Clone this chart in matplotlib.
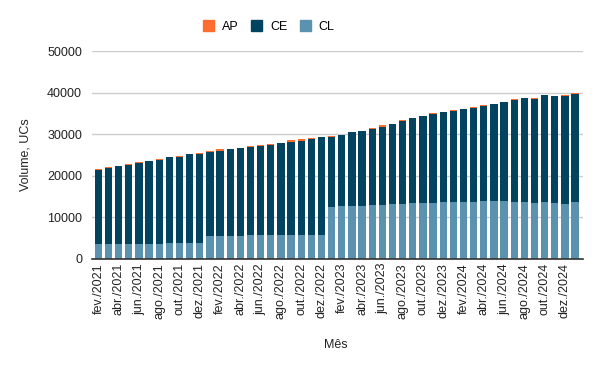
import numpy as np
import matplotlib
matplotlib.use("Agg")
import matplotlib.pyplot as plt
import matplotlib.patches as mpatches

plt.rcParams['font.family'] = ['Liberation Sans', 'DejaVu Sans']
plt.rcParams['font.size'] = 9

month_abbr = ['jan.', 'fev.', 'mar.', 'abr.', 'mai.', 'jun.',
              'jul.', 'ago.', 'set.', 'out.', 'nov.', 'dez.']
years = [2021, 2022, 2023, 2024, 2025]
months = [f"{m}/{y}" for y in years for m in month_abbr][1:49]  # fev./2021 .. jan./2025

cl = [3600, 3600, 3600, 3600, 3600, 3600, 3600, 3900, 3900, 3900,
      3900, 5500, 5500, 5500, 5500, 5750, 5750, 5750, 5750, 5750,
      5750, 5750, 5750, 12550, 12800, 12800, 12800, 13050, 13050, 13300,
      13300, 13500, 13500, 13500, 13700, 13700, 13700, 13700, 13950, 13950,
      13950, 13700, 13700, 13450, 13700, 13450, 13200, 13700]

ce = [17800, 18300, 18800, 19000, 19500, 20000, 20200, 20500, 20700, 21200,
      21350, 20230, 20550, 21030, 21270, 21190, 21430, 21670, 22230, 22470,
      22710, 23120, 23670, 16800, 17100, 17590, 18070, 18230, 18780, 19250,
      19900, 20450, 20910, 21390, 21670, 21910, 22400, 22640, 22870, 23350,
      23830, 24560, 25050, 25050, 25770, 25780, 25950, 26010]

ap = [250, 250, 0, 250, 300, 0, 250, 0, 250, 0,
      250, 250, 250, 0, 0, 250, 250, 250, 0, 250,
      250, 250, 0, 300, 0, 0, 0, 250, 250, 0,
      250, 0, 0, 250, 0, 250, 0, 250, 250, 0,
      0, 250, 0, 250, 0, 0, 300, 300]

c_ap = '#ff6d2e'
c_ce = '#02445f'
c_cl = '#5a92af'

fig = plt.figure(figsize=(6.0, 3.71), dpi=100)
ax = fig.add_axes([0.153, 0.3025, 0.819, 0.56])

x = np.arange(len(months))
cl_arr = np.array(cl)
ce_arr = np.array(ce)
ap_arr = np.array(ap)

ax.bar(x, cl_arr, width=0.72, color=c_cl, zorder=3)
ax.bar(x, ce_arr, width=0.72, bottom=cl_arr, color=c_ce, zorder=3)
ax.bar(x, ap_arr, width=0.72, bottom=cl_arr + ce_arr, color=c_ap, zorder=3)

ax.set_xlim(-0.65, 47.8)
ax.set_ylim(0, 50000)
ax.set_yticks([0, 10000, 20000, 30000, 40000, 50000])
ax.set_yticklabels(['0', '10000', '20000', '30000', '40000', '50000'])
ax.grid(axis='y', color='#cccccc', linewidth=1.0, zorder=0)

ax.set_xticks(x[::2])
ax.set_xticklabels(months[::2], rotation=90)

for side in ['top', 'right', 'left']:
    ax.spines[side].set_visible(False)
ax.spines['bottom'].set_color('#333333')
ax.spines['bottom'].set_linewidth(1.2)
ax.spines['bottom'].set_zorder(4)
ax.tick_params(axis='both', length=0, colors='#222222', labelsize=9)
ax.tick_params(axis='x', pad=3)
ax.tick_params(axis='y', pad=7)

ax.set_ylabel('Volume, UCs', color='#222222', fontsize=9, labelpad=11)
fig.text(0.56, 0.07, 'Mês', ha='center', va='center', color='#222222', fontsize=9)

handles = [mpatches.Patch(color=c_ap, label='AP'),
           mpatches.Patch(color=c_ce, label='CE'),
           mpatches.Patch(color=c_cl, label='CL')]
fig.legend(handles=handles, loc='center', bbox_to_anchor=(0.448, 0.928), ncol=3,
           frameon=False, handlelength=0.9, handleheight=0.9, handletextpad=0.6,
           columnspacing=1.0, fontsize=9)

fig.savefig('out.png', dpi=100, facecolor='white')
